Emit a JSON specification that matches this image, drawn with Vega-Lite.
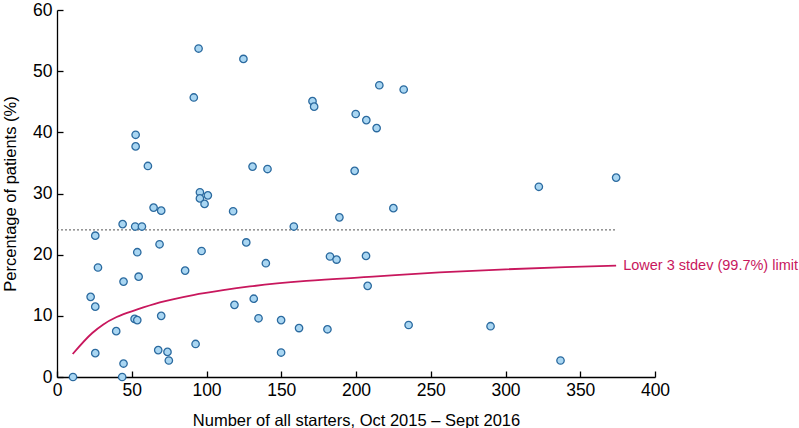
{
  "$schema": "https://vega.github.io/schema/vega-lite/v6.json",
  "width": 598,
  "height": 367,
  "autosize": {"type": "none"},
  "padding": {"left": 57, "top": 10, "right": 144, "bottom": 51},
  "background": "white",
  "config": {
    "view": {"stroke": null},
    "font": "Liberation Sans",
    "axis": {
      "domainColor": "#000000",
      "domainWidth": 1.3,
      "tickColor": "#000000",
      "tickWidth": 1.3,
      "tickSize": -6,
      "grid": false,
      "labelFlush": false,
      "labelFont": "Liberation Sans",
      "labelFontSize": 17.5,
      "labelColor": "#000000",
      "titleFont": "Liberation Sans",
      "titleFontSize": 16.5,
      "titleFontWeight": "normal",
      "titleColor": "#000000"
    }
  },
  "datasets": {
    "points": [
      {"n": 94.7, "pct": 53.7}, {"n": 124.7, "pct": 52.0}, {"n": 91.5, "pct": 45.7},
      {"n": 52.6, "pct": 39.6}, {"n": 52.6, "pct": 37.7}, {"n": 60.8, "pct": 34.5},
      {"n": 170.9, "pct": 45.1}, {"n": 172.0, "pct": 44.2}, {"n": 215.6, "pct": 47.7},
      {"n": 199.8, "pct": 43.0}, {"n": 206.9, "pct": 42.0}, {"n": 213.8, "pct": 40.7},
      {"n": 130.8, "pct": 34.4}, {"n": 140.8, "pct": 34.0}, {"n": 199.1, "pct": 33.7},
      {"n": 95.6, "pct": 30.2}, {"n": 95.6, "pct": 29.2}, {"n": 100.9, "pct": 29.7},
      {"n": 98.7, "pct": 28.3}, {"n": 64.6, "pct": 27.7}, {"n": 69.7, "pct": 27.2},
      {"n": 117.8, "pct": 27.1}, {"n": 188.9, "pct": 26.1}, {"n": 225.0, "pct": 27.6},
      {"n": 231.9, "pct": 47.0}, {"n": 322.3, "pct": 31.1}, {"n": 374.0, "pct": 32.6},
      {"n": 43.9, "pct": 25.0}, {"n": 52.3, "pct": 24.6}, {"n": 56.8, "pct": 24.6},
      {"n": 158.4, "pct": 24.6}, {"n": 25.6, "pct": 23.1}, {"n": 68.6, "pct": 21.7},
      {"n": 126.6, "pct": 22.0}, {"n": 96.7, "pct": 20.6}, {"n": 53.7, "pct": 20.4},
      {"n": 182.6, "pct": 19.7}, {"n": 187.0, "pct": 19.2}, {"n": 206.7, "pct": 19.8},
      {"n": 27.4, "pct": 17.9}, {"n": 85.7, "pct": 17.4}, {"n": 139.7, "pct": 18.6},
      {"n": 44.5, "pct": 15.6}, {"n": 54.6, "pct": 16.4}, {"n": 207.8, "pct": 14.9},
      {"n": 22.5, "pct": 13.1}, {"n": 25.6, "pct": 11.5}, {"n": 118.7, "pct": 11.8},
      {"n": 131.6, "pct": 12.8}, {"n": 51.9, "pct": 9.5}, {"n": 53.7, "pct": 9.3},
      {"n": 69.7, "pct": 10.0}, {"n": 134.8, "pct": 9.6}, {"n": 149.9, "pct": 9.3},
      {"n": 161.9, "pct": 8.0}, {"n": 180.9, "pct": 7.8}, {"n": 39.6, "pct": 7.5},
      {"n": 92.7, "pct": 5.4}, {"n": 67.7, "pct": 4.4}, {"n": 73.9, "pct": 4.1},
      {"n": 74.8, "pct": 2.7}, {"n": 25.6, "pct": 3.9}, {"n": 149.9, "pct": 4.0},
      {"n": 44.5, "pct": 2.2}, {"n": 10.7, "pct": 0.0}, {"n": 43.6, "pct": 0.0},
      {"n": 235.2, "pct": 8.5}, {"n": 290.0, "pct": 8.3}, {"n": 336.8, "pct": 2.7}
    ],
    "limit": [
      {"n": 10.5, "pct": 3.76}, {"n": 23.6, "pct": 7.2}, {"n": 31.0, "pct": 8.6},
      {"n": 39.9, "pct": 9.8}, {"n": 53.3, "pct": 11.0}, {"n": 68.8, "pct": 12.2},
      {"n": 91.1, "pct": 13.4}, {"n": 111.1, "pct": 14.2}, {"n": 129.0, "pct": 14.8},
      {"n": 166.8, "pct": 15.7}, {"n": 211.4, "pct": 16.4}, {"n": 255.9, "pct": 17.1},
      {"n": 300.0, "pct": 17.6}, {"n": 340.0, "pct": 17.95}, {"n": 374.0, "pct": 18.2}
    ],
    "mean": [{"n": 0, "pct": 24.05}, {"n": 374, "pct": 24.05}],
    "label": [{"n": 374, "pct": 18.2, "text": "Lower 3 stdev (99.7%) limit"}]
  },
  "layer": [
    {
      "data": {"name": "mean"},
      "mark": {"type": "line", "color": "#555555", "strokeWidth": 1, "strokeDash": [2, 2]},
      "encoding": {
        "x": {"field": "n", "type": "quantitative", "scale": {"domain": [0, 400], "nice": false},
              "axis": {"values": [0, 50, 100, 150, 200, 250, 300, 350, 400], "labelPadding": 10,
                       "title": "Number of all starters, Oct 2015 – Sept 2016", "titlePadding": 14}},
        "y": {"field": "pct", "type": "quantitative", "scale": {"domain": [0, 60], "nice": false},
              "axis": {"values": [0, 10, 20, 30, 40, 50, 60], "labelPadding": 11,
                       "title": "Percentage of patients (%)", "titleX": -47, "titleBaseline": "middle"}}
      }
    },
    {
      "data": {"name": "limit"},
      "mark": {"type": "line", "color": "#c8175d", "strokeWidth": 1.8, "interpolate": "monotone"},
      "encoding": {
        "x": {"field": "n", "type": "quantitative"},
        "y": {"field": "pct", "type": "quantitative"}
      }
    },
    {
      "data": {"name": "label"},
      "mark": {"type": "text", "color": "#c8175d", "fontSize": 14.5, "align": "left", "baseline": "middle", "dx": 7, "font": "Liberation Sans"},
      "encoding": {
        "x": {"field": "n", "type": "quantitative"},
        "y": {"field": "pct", "type": "quantitative"},
        "text": {"field": "text"}
      }
    },
    {
      "data": {"name": "points"},
      "mark": {"type": "point", "filled": false, "fill": "#a9d6f2", "fillOpacity": 1, "stroke": "#2b6a9f", "strokeWidth": 1.3, "opacity": 1, "size": 55, "shape": "circle"},
      "encoding": {
        "x": {"field": "n", "type": "quantitative"},
        "y": {"field": "pct", "type": "quantitative"}
      }
    }
  ]
}
